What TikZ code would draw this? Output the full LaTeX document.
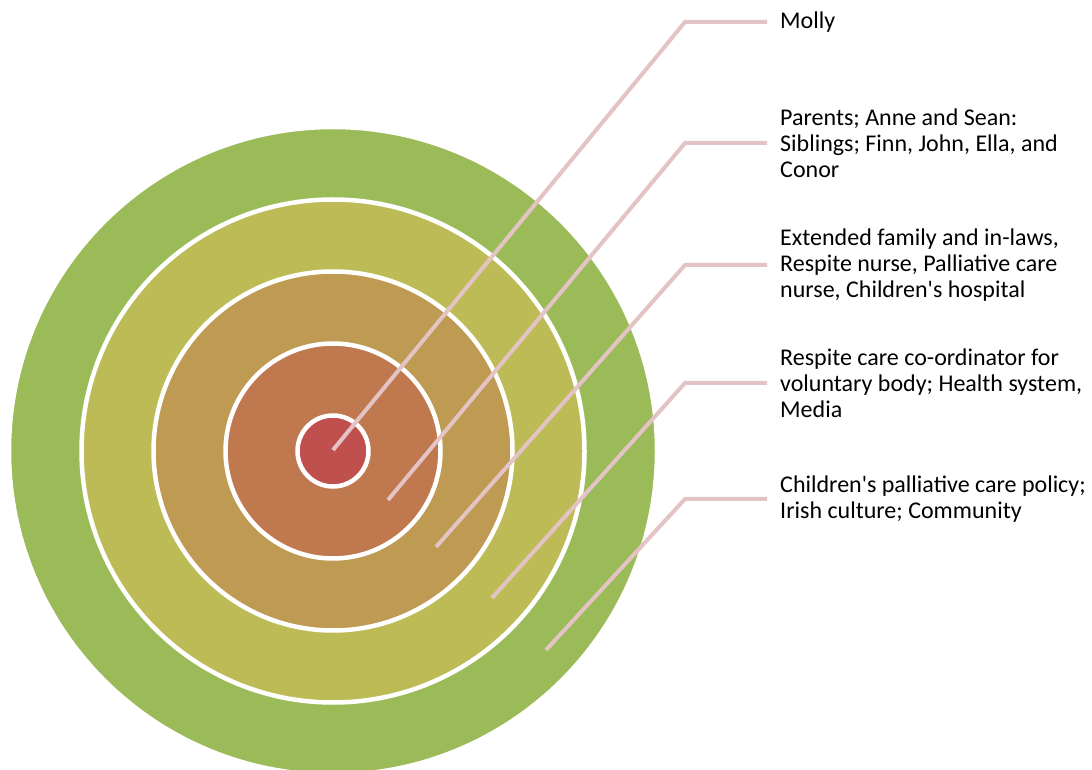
\documentclass[tikz,border=0pt]{standalone}
\usepackage{fontspec}
\setmainfont{Carlito}
\definecolor{ringA}{HTML}{9BBB59}
\definecolor{ringB}{HTML}{BDBB56}
\definecolor{ringC}{HTML}{BF9A52}
\definecolor{ringD}{HTML}{C0784F}
\definecolor{ringE}{HTML}{C0504D}
\definecolor{leadpink}{HTML}{E3C3C3}

\begin{document}
\begin{tikzpicture}[x=1pt,y=1pt,
    ring/.style = {circle,draw=white,line width=4.5pt,inner sep=0pt,outer sep=0pt},
    lead/.style = {leadpink,line width=4pt},
    lbl/.style  = {anchor=west,align=left,inner sep=0pt,font=\fontsize{24}{26.2}\selectfont}]
\useasboundingbox (0,0) rectangle (1092,769);
\coordinate (c) at (333,318);
\foreach \r/\col [count=\j] in {324/ringA, 251.5/ringB, 179.5/ringC, 107.5/ringD, 35.5/ringE}
    \node[ring,fill=\col,minimum size=2*\r] (ring\j) at (c) {};
% labels
\node[lbl] (lbl1) at (780,747) {Molly};
\node[lbl] (lbl2) at (780,626) {Parents; Anne and Sean:\\Siblings; Finn, John, Ella, and\\Conor};
\node[lbl] (lbl3) at (780,504) {Extended family and in-laws,\\Respite nurse, Palliative care\\nurse, Children\textquotesingle s hospital};
\node[lbl] (lbl4) at (780,386) {Respite care co-ordinator for\\voluntary body; Health system,\\Media};
\node[lbl] (lbl5) at (780,270) {Children\textquotesingle s palliative care policy;\\Irish culture; Community};
% inner ends
\coordinate (in1) at (333,319);
\coordinate (in2) at (388,269);
\coordinate (in3) at (436,222);
\coordinate (in4) at (492,171);
\coordinate (in5) at (546,119);
\foreach \k in {1,...,5}
    \draw[lead] (in\k) -- ([xshift=-95pt]lbl\k.west) -- ([xshift=-13pt]lbl\k.west);
\end{tikzpicture}
\end{document}
